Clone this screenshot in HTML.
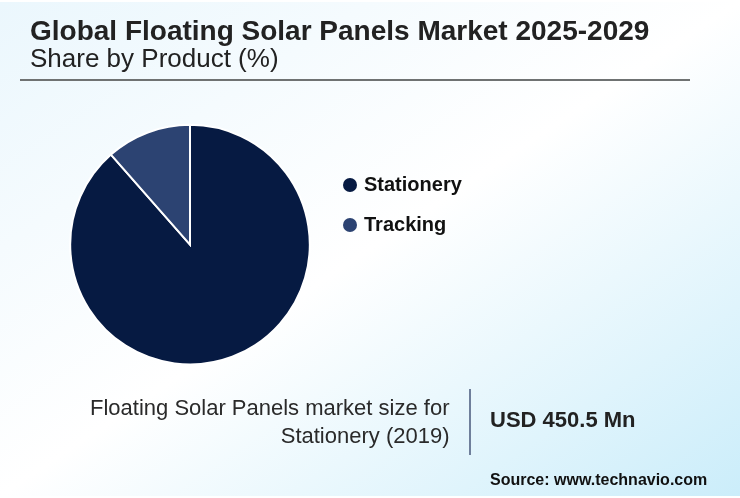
<!DOCTYPE html>
<html>
<head>
<meta charset="utf-8">
<style>
html,body{margin:0;padding:0;}
body{width:740px;height:498px;overflow:hidden;position:relative;font-family:"Liberation Sans",sans-serif;background:#fff;}
#bg{position:absolute;left:0;top:2px;width:740px;height:494px;background:linear-gradient(to bottom right,#ebf7fd 0%,#ffffff 50%,#cbedfa 100%);}
.t{position:absolute;white-space:nowrap;line-height:1;will-change:transform;}
#title{left:30px;top:17px;font-size:28px;font-weight:bold;color:#222;}
#sub{left:30px;top:45px;font-size:26px;color:#222;}
#rule{position:absolute;left:20px;top:79px;width:670px;height:2px;background:#6f7272;}
svg{position:absolute;left:0;top:0;}
.dot{position:absolute;width:14px;height:14px;border-radius:50%;}
#leg1{left:364px;top:174px;font-size:20px;font-weight:bold;color:#111;}
#leg2{left:364px;top:214px;font-size:20px;font-weight:bold;color:#111;}
#desc{position:absolute;will-change:transform;right:290.5px;top:394px;font-size:22px;line-height:28px;text-align:right;color:#2a2a2a;}
#vline{position:absolute;left:469px;top:389px;width:2px;height:66px;background:#6f7f9b;}
#usd{left:490px;top:409px;font-size:22px;font-weight:bold;color:#222;}
#src{left:490px;top:472px;font-size:16px;font-weight:bold;color:#111;}
</style>
</head>
<body>
<div id="bg"></div>
<div class="t" id="title">Global Floating Solar Panels Market 2025-2029</div>
<div class="t" id="sub">Share by Product (%)</div>
<div id="rule"></div>
<svg width="740" height="498" viewBox="0 0 740 498">
<path d="M190 244.6 L190 124.80 A119.8 119.8 0 1 1 110.93 154.60 Z" fill="#061a42" stroke="#fff" stroke-width="2" stroke-linejoin="miter"/>
<path d="M190 244.6 L110.93 154.60 A119.8 119.8 0 0 1 190 124.80 Z" fill="#2c4372" stroke="#fff" stroke-width="2" stroke-linejoin="miter"/>
</svg>
<div class="dot" style="left:343px;top:178px;background:#061a42"></div>
<div class="dot" style="left:343px;top:218px;background:#2c4372"></div>
<div class="t" id="leg1">Stationery</div>
<div class="t" id="leg2">Tracking</div>
<div id="desc">Floating Solar Panels market size for<br>Stationery (2019)</div>
<div id="vline"></div>
<div class="t" id="usd">USD 450.5 Mn</div>
<div class="t" id="src">Source: www.technavio.com</div>
</body>
</html>
